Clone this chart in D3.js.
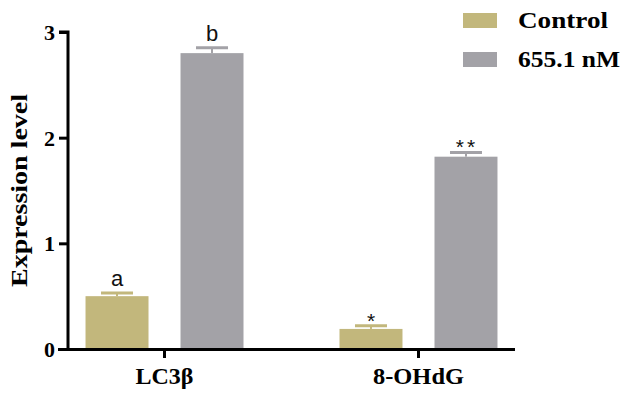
<!DOCTYPE html>
<html>
<head>
<meta charset="utf-8">
<script src="https://cdn.jsdelivr.net/npm/d3@7"></script>
<style>
  body { margin: 0; background: #fff; }
  .serif { font-family: "Liberation Serif", "Times New Roman", serif; font-weight: bold; }
  .sans { font-family: "Liberation Sans", Arial, sans-serif; }
</style>
</head>
<body>
<div id="chart"></div>
<script>
const categories = ["LC3β", "8-OHdG"]
const series = ["Control", "655.1 nM"]
const controlValues = [0.50, 0.19]
const controlErrors = [0.03, 0.03]
const treatedValues = [2.80, 1.82]
const treatedErrors = [0.05, 0.04]
const controlMarks = ["a", "*"]
const treatedMarks = ["b", "**"]
const yTicks = [0, 1, 2, 3]
const colours = ["#c2b77c", "#a3a2a7"]

const width = 627
const height = 397
const margin = { top: 32, bottom: 48, left: 68, right: 112 }

const svg = d3.select("#chart").append("svg").attr("width", width).attr("height", height)

const x = d3.scaleBand().domain(categories).range([margin.left, width - margin.right]).paddingInner(0.378).paddingOuter(0.069)
const xInner = d3.scaleBand().domain(series).range([0, x.bandwidth()]).paddingInner(0.337)
const y = d3.scaleLinear().domain([0, 3]).range([height - margin.bottom, margin.top])

const data = []
categories.forEach((c, i) => {
    data.push({ cat: c, s: series[0], v: controlValues[i], e: controlErrors[i], m: controlMarks[i], col: colours[0] })
    data.push({ cat: c, s: series[1], v: treatedValues[i], e: treatedErrors[i], m: treatedMarks[i], col: colours[1] })
})

const bars = svg.append("g")
bars.selectAll("rect").data(data).enter().append("rect")
    .attr("x", d => x(d.cat) + xInner(d.s))
    .attr("y", d => y(d.v))
    .attr("width", xInner.bandwidth())
    .attr("height", d => y(0) - y(d.v))
    .attr("fill", d => d.col)

// error bars (upper only)
const err = svg.append("g")
data.forEach(d => {
    const cx = x(d.cat) + xInner(d.s) + xInner.bandwidth() / 2
    err.append("line").attr("x1", cx).attr("x2", cx).attr("y1", y(d.v)).attr("y2", y(d.v + d.e))
        .attr("stroke", d.col).attr("stroke-width", 2)
    err.append("line").attr("x1", cx - 16).attr("x2", cx + 16).attr("y1", y(d.v + d.e)).attr("y2", y(d.v + d.e))
        .attr("stroke", d.col).attr("stroke-width", 3)
    const star = d.m.startsWith("*")
    err.append("text").attr("class", "sans")
        .attr("x", cx + (star && d.m.length > 1 ? 1 : 0)).attr("y", y(d.v + d.e) - (star ? -2 : 7))
        .attr("text-anchor", "middle")
        .attr("font-size", star ? 21 : 22)
        .attr("letter-spacing", star && d.m.length > 1 ? 3 : 0)
        .attr("fill", "#111")
        .text(d.m)
})

// axes
const yAxis = d3.axisLeft(y).tickValues(yTicks).tickFormat(d3.format("d")).tickSize(9).tickPadding(4)
const yAxisGroup = svg.append("g").attr("transform", `translate(${margin.left}, 0)`).call(yAxis)
const xAxis = d3.axisBottom(x).tickSize(9).tickPadding(10)
const xAxisGroup = svg.append("g").attr("transform", `translate(0, ${y(0)})`).call(xAxis)

xAxisGroup.select(".domain").attr("d", `M${margin.left - 10},0.5H${width - margin.right}`)
yAxisGroup.select(".domain").attr("d", `M-9,${y(3)}H0V${y(0)}`)

svg.selectAll(".domain, .tick line").attr("stroke", "#000").attr("stroke-width", 3)
yAxisGroup.selectAll("text").attr("class", "serif").attr("font-size", 22).attr("fill", "#000").attr("dy", "0.34em")
xAxisGroup.selectAll("text").attr("class", "serif").attr("font-size", 23).attr("fill", "#000")
    .attr("textLength", d => d === "LC3β" ? 58 : 91).attr("lengthAdjust", "spacingAndGlyphs")

svg.append("text").attr("class", "serif")
    .attr("transform", `translate(27, ${(y(0) + y(3)) / 2}) rotate(-90)`)
    .attr("text-anchor", "middle")
    .attr("font-size", 23)
    .attr("textLength", 193).attr("lengthAdjust", "spacingAndGlyphs")
    .text("Expression level")

// legend
const legend = svg.append("g").attr("transform", "translate(463, 13)")
series.forEach((s, i) => {
    legend.append("rect").attr("x", 0).attr("y", i * 39).attr("width", 34).attr("height", 15).attr("fill", colours[i])
    legend.append("text").attr("class", "serif").attr("x", 55).attr("y", i * 39 + 15)
        .attr("font-size", 23)
        .attr("textLength", i === 0 ? 90 : 102).attr("lengthAdjust", "spacingAndGlyphs")
        .text(s)
})
</script>
</body>
</html>
